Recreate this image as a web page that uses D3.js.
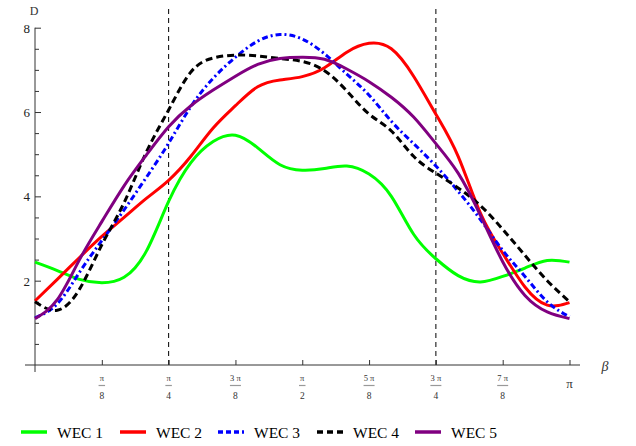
<!DOCTYPE html>
<html><head><meta charset="utf-8">
<script src="https://cdn.jsdelivr.net/npm/d3@7/dist/d3.min.js"></script>
<style>body{margin:0;background:#fff}svg{display:block}
svg text{font-family:"Liberation Serif","DejaVu Serif",serif}</style>
</head><body>
<svg id="c" width="636" height="446"></svg>
<script>
// beta sample positions, in units of pi/24
const betaSteps = d3.range(0, 25);
const seriesNames = ["WEC 1", "WEC 2", "WEC 3", "WEC 4", "WEC 5"];
const wec1 = [2.44,2.24,2.03,1.95,2.08,2.7,3.88,4.8,5.3,5.45,5.15,4.75,4.62,4.66,4.72,4.53,4.0,3.1,2.52,2.12,1.97,2.1,2.3,2.48,2.44];
const wec2 = [1.52,2.03,2.55,3.05,3.5,3.95,4.38,4.95,5.62,6.15,6.6,6.76,6.84,7.05,7.42,7.63,7.5,6.85,5.95,4.95,3.6,2.65,1.85,1.42,1.48];
const wec3 = [1.12,1.45,2.2,2.95,3.68,4.45,5.26,6.13,6.8,7.3,7.68,7.84,7.73,7.38,6.9,6.4,5.78,5.25,4.72,4.12,3.45,2.72,2.1,1.5,1.14];
const wec4 = [1.5,1.3,1.8,2.85,3.85,5.05,6.05,6.95,7.28,7.35,7.33,7.27,7.2,6.98,6.5,5.95,5.55,4.95,4.55,4.2,3.78,3.22,2.6,2.0,1.5];
const wec5 = [1.1,1.55,2.5,3.4,4.25,4.98,5.65,6.15,6.52,6.85,7.13,7.27,7.3,7.25,7.02,6.72,6.35,5.88,5.25,4.55,3.55,2.45,1.65,1.26,1.1];
const seriesColors = ["#00ff00", "#ff0000", "#0000ff", "#000000", "#800080"];
const seriesDash = [null, null, "6,3,2,3", "7,4", null];
const yMajorTicks = [2, 4, 6, 8];
const xTickNum = ["π", "π", "3 π", "π", "5 π", "3 π", "7 π"];
const xTickDen = ["8", "4", "8", "2", "8", "4", "8"];

const svg = d3.select("#c");
const x = d3.scaleLinear().domain([0, Math.PI]).range([35, 569.5]);
const y = d3.scaleLinear().domain([0, 8]).range([365, 27.7]);
const font = "'Liberation Serif', 'DejaVu Serif', serif";

// vertical dashed reference lines
[Math.PI/4, 3*Math.PI/4].forEach(b => {
  svg.append("line").attr("x1", x(b)).attr("x2", x(b))
    .attr("y1", y(0)).attr("y2", y(8.5))
    .attr("stroke", "#000").attr("stroke-width", 1).attr("stroke-dasharray", "5,4");
});

// y axis
const yMinor = d3.range(0.5, 8.01, 0.5).filter(v => !yMajorTicks.includes(v));
const gyMinor = svg.append("g").attr("transform", "translate(35,0)")
  .call(d3.axisLeft(y).tickValues(yMinor).tickSize(-4).tickSizeOuter(0).tickFormat(""));
const gy = svg.append("g").attr("transform", "translate(35,0)")
  .call(d3.axisLeft(y).tickValues(yMajorTicks).tickSize(-6).tickSizeOuter(0).tickPadding(5));
gy.attr("font-family", null);
gy.selectAll("text").style("font-family", font).attr("font-size", 13).attr("fill", "#222").attr("dy", "0.35em");
[gy, gyMinor].forEach(g => { g.selectAll("line").attr("stroke", "#333"); g.select(".domain").remove(); });
svg.append("line").attr("x1", 35).attr("x2", 35).attr("y1", y(0) + 7).attr("y2", y(8)).attr("stroke", "#333");

// x axis
const xTicks = d3.range(1, 9).map(k => k * Math.PI / 8);
const gx = svg.append("g").attr("transform", "translate(0,365)")
  .call(d3.axisBottom(x).tickValues(xTicks).tickSize(-5).tickSizeOuter(0).tickFormat(""));
gx.select(".domain").remove();
gx.selectAll("line").attr("stroke", "#333");
svg.append("line").attr("x1", 25).attr("x2", 580).attr("y1", 365).attr("y2", 365).attr("stroke", "#333");

// fraction tick labels
xTickNum.forEach((n, i) => {
  const cx = x((i + 1) * Math.PI / 8);
  const g = svg.append("g").attr("fill", "#333").attr("text-anchor", "middle");
  g.append("text").attr("x", cx).attr("y", 381).attr("font-size", 8.5).style("font-family", font).text(n);
  const w = n.length > 1 ? 11 : 6.5;
  g.append("line").attr("x1", cx - w/2).attr("x2", cx + w/2).attr("y1", 385.5).attr("y2", 385.5).attr("stroke", "#999").attr("stroke-width", 1.2);
  g.append("text").attr("x", cx).attr("y", 398.5).attr("font-size", 9.5).style("font-family", font).text(xTickDen[i]);
});
svg.append("text").attr("x", x(Math.PI)).attr("y", 388).attr("text-anchor", "middle")
  .style("font-family", font).attr("font-size", 13).attr("fill", "#333").text("π");

// axis labels
svg.append("text").attr("x", 34).attr("y", 15).attr("text-anchor", "middle")
  .style("font-family", font).attr("font-size", 12).attr("fill", "#333").text("D");
svg.append("text").attr("x", 605).attr("y", 371).attr("text-anchor", "middle")
  .style("font-family", font).attr("font-size", 14).attr("font-style", "italic").attr("fill", "#333").text("β");

// series
const allSeries = [wec1, wec2, wec3, wec4, wec5];
const line = d3.line().x((d, i) => x(betaSteps[i] * Math.PI / 24)).y(d => y(d)).curve(d3.curveNatural);
allSeries.forEach((s, i) => {
  svg.append("path").datum(s).attr("d", line).attr("fill", "none")
    .attr("stroke", seriesColors[i]).attr("stroke-width", 3)
    .attr("stroke-dasharray", seriesDash[i]);
});

// legend
const legX = [21, 120, 218, 317, 415];
seriesNames.forEach((name, i) => {
  svg.append("line").attr("x1", legX[i]).attr("x2", legX[i] + 26).attr("y1", 432).attr("y2", 432)
    .attr("stroke", seriesColors[i]).attr("stroke-width", 3.5)
    .attr("stroke-dasharray", i === 2 ? "5,3" : (i === 3 ? "6,4" : null));
  svg.append("text").attr("x", legX[i] + 36).attr("y", 437.5)
    .style("font-family", font).attr("font-size", 15.5).attr("fill", "#000").text(name);
});
</script>
</body></html>
